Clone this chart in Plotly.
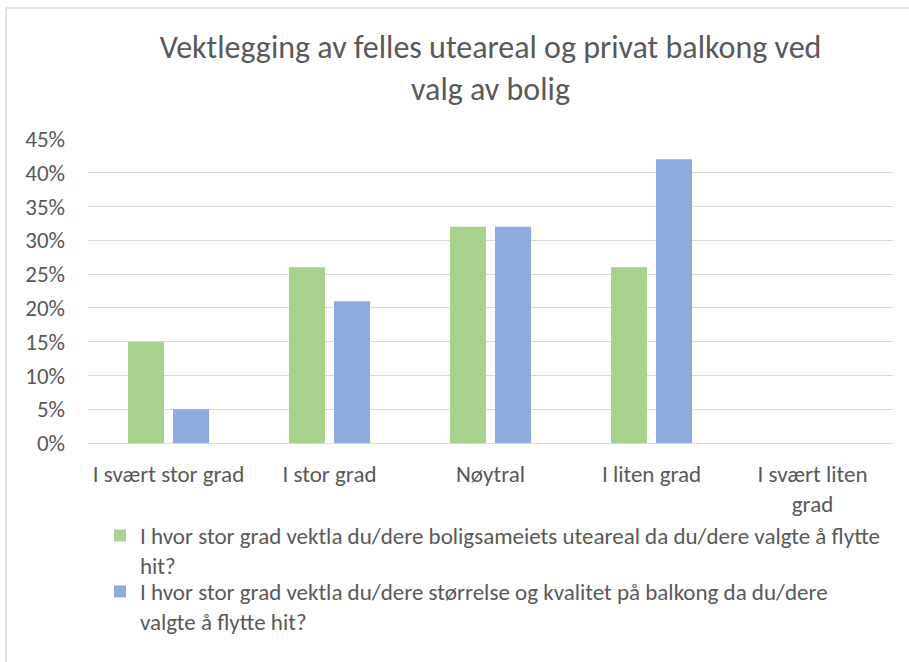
import plotly.graph_objects as go

categories = ["I svært stor grad", "I stor grad", "Nøytral", "I liten grad", "I svært liten<br>grad"]
uteareal = [0.15, 0.26, 0.32, 0.26, 0.0]
balkong = [0.05, 0.21, 0.32, 0.42, 0.0]
series_names = [
    "I hvor stor grad vektla du/dere boligsameiets uteareal da du/dere valgte å flytte<br>hit?",
    "I hvor stor grad vektla du/dere størrelse og kvalitet på balkong da du/dere<br>valgte å flytte hit?",
]
tick_vals = [0, 0.05, 0.10, 0.15, 0.20, 0.25, 0.30, 0.35, 0.40, 0.45]
tick_text = ["0%", "5%", "10%", "15%", "20%", "25%", "30%", "35%", "40%", "45%"]
title_text = "Vektlegging av felles uteareal og privat balkong ved<br>valg av bolig"

W, H = 909, 662
L, R, T, B = 88, 16, 139, 219
FONT = "Carlito, Calibri, Lato, 'Open Sans', sans-serif"
TXT = "#595959"

def px_x(p):
    return (p - L) / (W - L - R)

def px_y(p):
    return (H - B - p) / (H - B - T)

fig = go.Figure()
fig.add_trace(go.Bar(x=categories, y=uteareal, name=series_names[0], legend="legend",
                     marker=dict(color="#A9D18E", line=dict(width=0))))
fig.add_trace(go.Bar(x=categories, y=balkong, name=series_names[1], legend="legend2",
                     marker=dict(color="#8FAADC", line=dict(width=0))))

leg_common = dict(orientation="v", xanchor="left", yanchor="top", valign="top",
                  font=dict(size=23, color=TXT, family=FONT),
                  itemwidth=30, bgcolor="rgba(0,0,0,0)")

fig.update_layout(
    width=W, height=H,
    margin=dict(l=L, r=R, t=T, b=B, autoexpand=False),
    paper_bgcolor="white", plot_bgcolor="white",
    font=dict(family=FONT, size=23, color=TXT),
    title=dict(text=title_text, x=0.5, xanchor="center", xref="paper",
               y=1 - 58 / H, yanchor="top", yref="container", automargin=False,
               font=dict(size=32, color=TXT, family=FONT)),
    barmode="group", bargap=0.44, bargroupgap=0.2,
    showlegend=True,
    legend=dict(x=px_x(100), y=px_y(514), **leg_common),
    legend2=dict(x=px_x(100), y=px_y(570), **leg_common),
    xaxis=dict(showgrid=False, showline=True, linecolor="#D9D9D9", linewidth=1,
               ticks="", tickfont=dict(size=23, color=TXT), fixedrange=True,
               automargin=False, ticklabelstandoff=10),
    yaxis=dict(range=[0, 0.45], tickvals=tick_vals, ticktext=tick_text,
               showgrid=True, gridcolor="#D9D9D9", gridwidth=1, zeroline=False,
               showline=False, ticks="", ticklabelstandoff=22, automargin=False,
               tickfont=dict(size=23, color=TXT), fixedrange=True),
    shapes=[
        dict(type="line", xref="paper", yref="paper", x0=px_x(6), x1=px_x(909),
             y0=px_y(8), y1=px_y(8), line=dict(color="#D9D9D9", width=1.5)),
        dict(type="line", xref="paper", yref="paper", x0=px_x(6), x1=px_x(6),
             y0=px_y(8), y1=px_y(662), line=dict(color="#D9D9D9", width=1.5)),
    ],
)

fig.write_html("out.html", config={"displayModeBar": False},
               post_script="document.body.style.margin='0';")
